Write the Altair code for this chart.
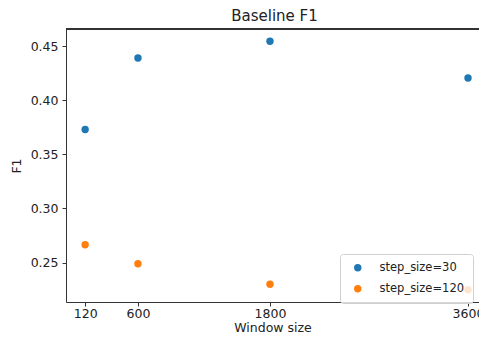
import altair as alt
import pandas as pd

window_sizes = [120, 600, 1800, 3600]
f1_step30 = [0.373, 0.439, 0.4545, 0.4205]
f1_step120 = [0.2665, 0.249, 0.230, 0.225]
series_names = ["step_size=30", "step_size=120"]
x_ticks = [120, 600, 1800, 3600]
y_ticks = [0.25, 0.30, 0.35, 0.40, 0.45]

rows = []
for w, v in zip(window_sizes, f1_step30):
    rows.append({"window": w, "f1": v, "series": series_names[0]})
for w, v in zip(window_sizes, f1_step120):
    rows.append({"window": w, "f1": v, "series": series_names[1]})
df = pd.DataFrame(rows)

FONT = "DejaVu Sans"
W, H = 413, 273

points = alt.Chart(df).mark_circle(size=55, opacity=1).encode(
    x=alt.X("window:Q",
            scale=alt.Scale(domain=[-54, 3700], nice=False, zero=False),
            axis=alt.Axis(values=x_ticks, format="d", title="Window size", grid=False,
                          tickSize=4, labelPadding=1, titlePadding=2,
                          domainColor="#333", tickColor="#333")),
    y=alt.Y("f1:Q",
            scale=alt.Scale(domain=[0.2136, 0.4658], nice=False, zero=False),
            axis=alt.Axis(values=y_ticks, format=".2f", title="F1", grid=False,
                          tickSize=4, labelPadding=4, titlePadding=7,
                          domainColor="#333", tickColor="#333")),
    color=alt.Color("series:N",
                    scale=alt.Scale(domain=series_names, range=["#1f77b4", "#ff7f0e"]),
                    legend=alt.Legend(title=None, orient="none", legendX=274, legendY=225,
                                      fillColor="rgba(255,255,255,0.8)", strokeColor="#d0d0d0",
                                      cornerRadius=3, padding=8, symbolType="circle",
                                      symbolSize=55, symbolOffset=4, labelOffset=16,
                                      rowPadding=8, labelFontSize=11.5, labelFont=FONT,
                                      labelColor="#222")),
)

top_border = alt.Chart(df).mark_rule(color="#333", strokeWidth=1).encode(
    x=alt.value(0), x2=alt.value(W), y=alt.value(0)
)

chart = alt.layer(points, top_border).properties(
    width=W, height=H,
    title=alt.TitleParams("Baseline F1", font=FONT, fontSize=15, fontWeight="normal",
                          color="#222", offset=5, dx=2),
    autosize=alt.AutoSizeParams(type="none"),
    padding={"left": 58, "top": 21, "right": 0, "bottom": 31},
).configure_view(stroke=None).configure_axis(
    labelFont=FONT, titleFont=FONT, labelFontSize=12.5, titleFontSize=12.5,
    titleFontWeight="normal", labelColor="#222", titleColor="#222"
)

chart.save("out.html", embed_options={"renderer": "svg", "actions": False})
